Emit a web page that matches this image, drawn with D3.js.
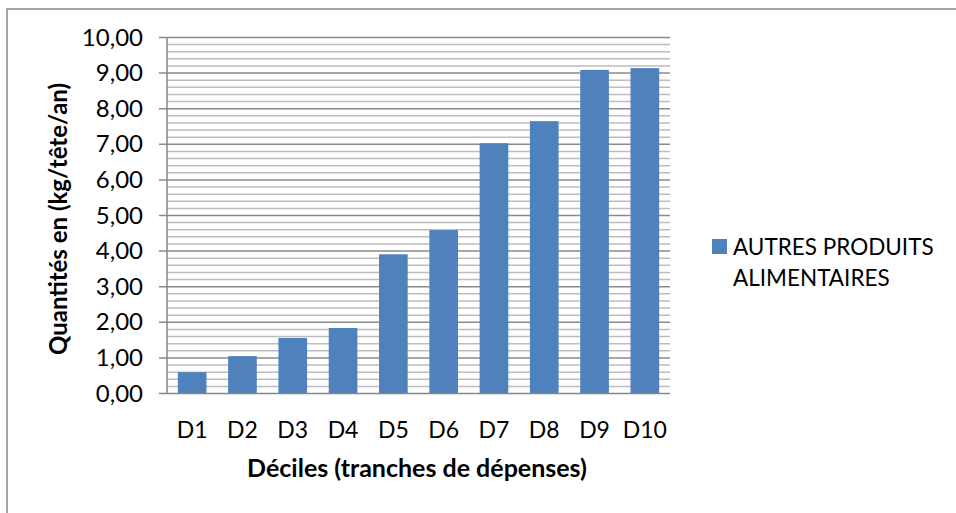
<!DOCTYPE html>
<html>
<head>
<meta charset="utf-8">
<script src="https://cdn.jsdelivr.net/npm/d3@7"></script>
<style>
  body { margin: 0; background: #fff; }
  text { font-family: Lato, "Open Sans", sans-serif; fill: #000; }
</style>
</head>
<body>
<div id="viz"></div>
<script>
var deciles = ['D1', 'D2', 'D3', 'D4', 'D5', 'D6', 'D7', 'D8', 'D9', 'D10'],
    quantites = [0.60, 1.05, 1.56, 1.84, 3.91, 4.59, 7.03, 7.65, 9.09, 9.14],
    yTicks = [0, 1, 2, 3, 4, 5, 6, 7, 8, 9, 10],
    serieName = ['AUTRES PRODUITS', 'ALIMENTAIRES'],
    yTitle = 'Quantités en (kg/tête/an)',
    xTitle = 'Déciles (tranches de dépenses)';

var width = 956,
    height = 513,
    plot = { left: 167, right: 670, top: 37.5, bottom: 393.5 },
    barColor = '#4f81bd';

var svg, xScale, yScale, minorTicks, fmt;

svg = d3.select('#viz').append('svg')
  .attr('width', width)
  .attr('height', height);

// outer chart frame (runs off the right and bottom of the picture)
svg.append('rect')
  .attr('x', 7).attr('y', 9)
  .attr('width', 980).attr('height', 540)
  .attr('fill', 'none')
  .attr('stroke', '#868686')
  .attr('stroke-width', 1.5);

yScale = d3.scaleLinear()
  .domain([0, d3.max(yTicks)])
  .range([plot.bottom, plot.top]);

xScale = d3.scaleBand()
  .domain(deciles)
  .range([plot.left, plot.right])
  .paddingInner(0.43)
  .paddingOuter(0.215);

fmt = function(d) { return d3.format('.2f')(d).replace('.', ','); };

// minor grid every 0.2
minorTicks = yScale.ticks(50).filter(function(d) {
  return Math.abs(d - Math.round(d)) > 1e-6;
});

svg.append('g').selectAll('line').data(minorTicks)
  .enter().append('line')
    .attr('x1', plot.left).attr('x2', plot.right)
    .attr('y1', function(d) { return yScale(d); })
    .attr('y2', function(d) { return yScale(d); })
    .attr('stroke', '#bdbdbd')
    .attr('stroke-width', 1.5);

svg.append('g').selectAll('line').data(yTicks.slice(1))
  .enter().append('line')
    .attr('x1', plot.left - 8).attr('x2', plot.right)
    .attr('y1', function(d) { return yScale(d); })
    .attr('y2', function(d) { return yScale(d); })
    .attr('stroke', '#8a8a8a')
    .attr('stroke-width', 1.5);

// bars
svg.append('g').selectAll('rect').data(quantites)
  .enter().append('rect')
    .attr('x', function(d, i) { return xScale(deciles[i]); })
    .attr('y', function(d) { return yScale(d); })
    .attr('width', xScale.bandwidth())
    .attr('height', function(d) { return yScale(0) - yScale(d); })
    .attr('fill', barColor);

// axes lines
svg.append('line')
  .attr('x1', plot.left).attr('x2', plot.left)
  .attr('y1', plot.top).attr('y2', plot.bottom)
  .attr('stroke', '#868686').attr('stroke-width', 1.5);

svg.append('line')
  .attr('x1', plot.left - 8).attr('x2', plot.right)
  .attr('y1', plot.bottom).attr('y2', plot.bottom)
  .attr('stroke', '#868686').attr('stroke-width', 1.5);

// y tick labels
svg.append('g').selectAll('text').data(yTicks)
  .enter().append('text')
    .attr('x', 143)
    .attr('y', function(d) { return yScale(d) + 8; })
    .attr('text-anchor', 'end')
    .style('font-size', '24px')
    .text(fmt);

// x tick labels
svg.append('g').selectAll('text').data(deciles)
  .enter().append('text')
    .attr('x', function(d) { return xScale(d) + xScale.bandwidth() / 2; })
    .attr('y', 438)
    .attr('text-anchor', 'middle')
    .style('font-size', '23px')
    .text(function(d) { return d; });

// axis titles
svg.append('text')
  .attr('transform', 'translate(67,219) rotate(-90)')
  .attr('text-anchor', 'middle')
  .style('font-size', '24px')
  .style('font-weight', 'bold')
  .text(yTitle);

svg.append('text')
  .attr('x', 417)
  .attr('y', 477)
  .attr('text-anchor', 'middle')
  .style('font-size', '25px')
  .style('font-weight', 'bold')
  .text(xTitle);

// legend
svg.append('rect')
  .attr('x', 712).attr('y', 239)
  .attr('width', 15).attr('height', 15)
  .attr('fill', barColor);

svg.append('g').selectAll('text').data(serieName)
  .enter().append('text')
    .attr('x', 733)
    .attr('y', function(d, i) { return 255 + i * 31; })
    .style('font-size', '22.5px')
    .text(function(d) { return d; });
</script>
</body>
</html>
